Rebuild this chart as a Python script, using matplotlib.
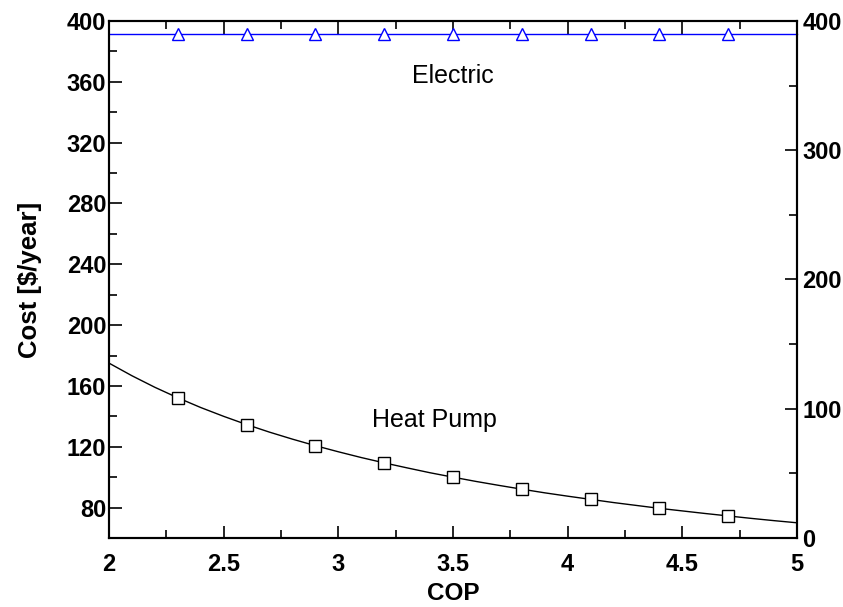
import matplotlib
matplotlib.use("Agg")
import matplotlib.pyplot as plt
from matplotlib.ticker import MultipleLocator, FormatStrFormatter

plt.rcParams['font.family'] = ['Liberation Sans', 'DejaVu Sans']

# heat pump cost
cop = [2.0, 2.1, 2.2, 2.3, 2.4, 2.5, 2.6, 2.7, 2.8, 2.9, 3.0,
       3.1, 3.2, 3.3, 3.4, 3.5, 3.6, 3.7, 3.8, 3.9, 4.0,
       4.1, 4.2, 4.3, 4.4, 4.5, 4.6, 4.7, 4.8, 4.9, 5.0]
heat_pump_cost = [175.0, 166.7, 159.1, 152.2, 145.8, 140.0, 134.6, 129.6, 125.0, 120.7, 116.7,
                  112.9, 109.4, 106.1, 102.9, 100.0, 97.2, 94.6, 92.1, 89.7, 87.5,
                  85.4, 83.3, 81.4, 79.5, 77.8, 76.1, 74.5, 72.9, 71.4, 70.0]
marker_idx = [3, 6, 9, 12, 15, 18, 21, 24, 27]

# electric resistance heating (flat)
elec_cop = [2.0, 2.3, 2.6, 2.9, 3.2, 3.5, 3.8, 4.1, 4.4, 4.7, 5.0]
elec_cost = [391.5, 391.5, 391.5, 391.5, 391.5, 391.5, 391.5, 391.5, 391.5, 391.5, 391.5]

fig = plt.figure(figsize=(8.43, 6.07), dpi=100)
ax = fig.add_axes([0.1293, 0.1137, 0.8161, 0.8517])

ax.plot(cop, heat_pump_cost, color='black', lw=1.0, marker='s', markevery=marker_idx,
        ms=8.5, mfc='white', mec='black', mew=1.0, clip_on=False)
ax.plot(elec_cop, elec_cost, color='#0000ff', lw=1.0, marker='^', markevery=list(range(1, 10)),
        ms=9, mfc='white', mec='#0000ff', mew=1.0, clip_on=False)

ax.text(3.5, 359.3, 'Electric', fontsize=18, ha='center', va='baseline')
ax.text(3.42, 132.7, 'Heat Pump', fontsize=18, ha='center', va='baseline')

ax.set_xlim(2, 5)
ax.set_ylim(60, 400)
ax.xaxis.set_major_locator(MultipleLocator(0.5))
ax.xaxis.set_minor_locator(MultipleLocator(0.25))
ax.xaxis.set_major_formatter(FormatStrFormatter('%g'))
ax.set_yticks([80, 120, 160, 200, 240, 280, 320, 360, 400])
ax.yaxis.set_minor_locator(MultipleLocator(20))

ax.tick_params(which='both', direction='in', top=True, width=1.2)
ax.tick_params(which='major', length=9)
ax.tick_params(which='minor', length=6)
ax.tick_params(axis='x', which='major', pad=11, labelsize=17)
ax.tick_params(axis='y', which='major', pad=2, labelsize=17)
for lbl in ax.get_xticklabels() + ax.get_yticklabels():
    lbl.set_fontweight('bold')

ax.set_xlabel('COP', fontsize=17.5, fontweight='bold', labelpad=4)
ax.set_ylabel('Cost [$/year]', fontsize=18.5, fontweight='bold', labelpad=18)

ax2 = ax.twinx()
ax2.set_ylim(0, 400)
ax2.yaxis.set_major_locator(MultipleLocator(100))
ax2.yaxis.set_minor_locator(MultipleLocator(50))
ax2.tick_params(which='both', direction='in', width=1.2, pad=4, labelsize=17)
ax2.tick_params(which='major', length=9)
ax2.tick_params(which='minor', length=6)
for lbl in ax2.get_yticklabels():
    lbl.set_fontweight('bold')

for a in (ax, ax2):
    for sp in a.spines.values():
        sp.set_linewidth(1.5)

fig.savefig('out.png', dpi=100)
